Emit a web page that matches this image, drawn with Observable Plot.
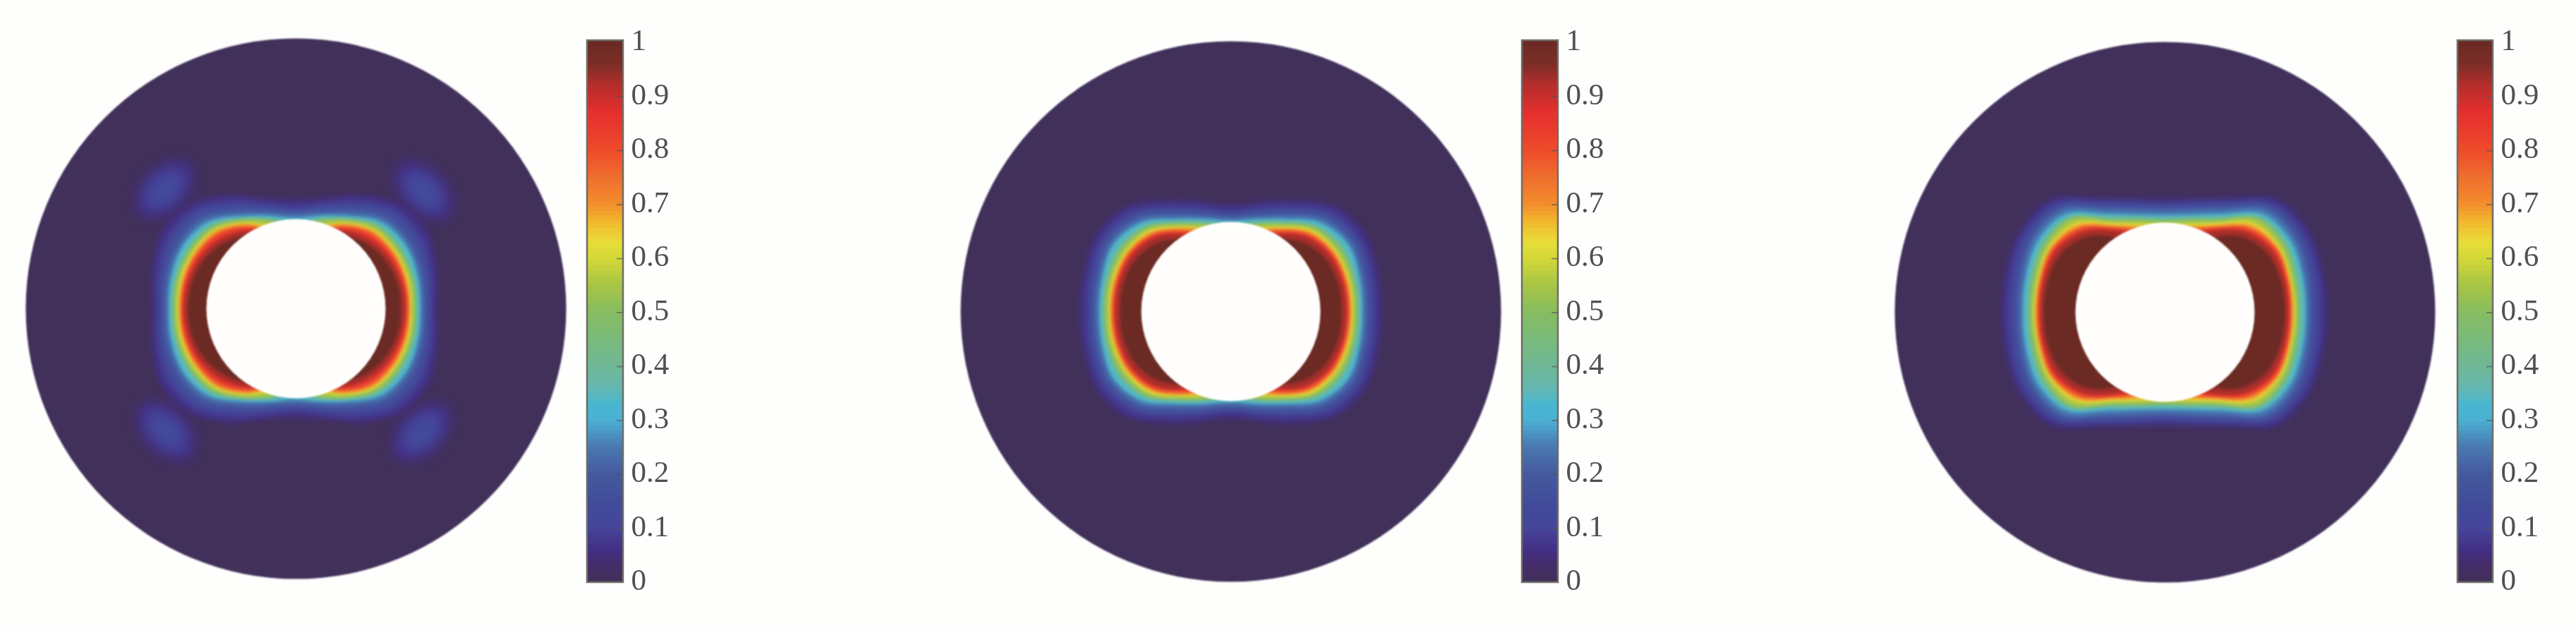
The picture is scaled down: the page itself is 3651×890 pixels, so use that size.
<!DOCTYPE html>
<html>
<head>
<meta charset="utf-8">
<script src="https://cdn.jsdelivr.net/npm/d3@7"></script>
<script src="https://cdn.jsdelivr.net/npm/@observablehq/plot@0.6"></script>
<style>html,body{margin:0;padding:0;background:#fefefd}</style>
</head>
<body>
<div id="chart"></div>
<script>
// Colour ramp
const rampStops  = [0,0.03,0.06,0.1,0.15,0.2,0.25,0.3,0.33,0.36,0.4,0.5,0.55,0.6,0.63,0.67,0.7,0.75,0.8,0.87,0.92,0.96,1];
const rampColors = ["#41305a","#452d68","#432f85","#45459a","#414c9a","#44599e","#4a78b0","#4bb0d3","#48b8d0","#65b7b0","#6fb896","#86bc60","#a8c545","#d3d838","#e8dd38","#f2b52e","#f28e2b","#ef6e2e","#ee4b2b","#e52f2e","#b52e2c","#7c2d26","#6b2a24"];

// Contour levels, and the value whose colour fills each band
const levels     = [0.05,0.1,0.15,0.2,0.25,0.3,0.4,0.5,0.6,0.65,0.7,0.8,0.9,0.95];
const bandValues = [0.06,0.11,0.16,0.21,0.27,0.34,0.45,0.55,0.62,0.67,0.75,0.85,0.93,1];
// Contour radius (reference pixels) at each polar angle in the first quadrant
const angles = [0,15,30,45,60,75,90];
const contours1 = [
  [201,209,218,210,186,162,154],
  [195,201,207,200,176,155,145],
  [189,193,198,191,167,148,140],
  [184,187,189,183,159,142,135],
  [180,183,184,177,154,138,131],
  [178,180,181,173,151,136,128],
  [174,175,174,168,148,132,120],
  [170,171,169,163,145,128,115],
  [166,167,165,159,141,121,110],
  [164,165,163,157,139,118,107],
  [163,163,161,155,137,115,105],
  [160,160,157,150,133,110,100],
  [157,156,152,143,128,105, 95],
  [151,150,145,135,120,100, 90]
];
const contours2 = [
  [214,216,220,210,182,161,151],
  [205,208,211,201,173,153,143],
  [198,200,205,193,166,147,138],
  [193,195,199,187,159,141,134],
  [189,191,194,182,154,137,130],
  [186,188,191,178,151,135,128],
  [182,183,183,172,147,131,122],
  [177,178,177,167,143,127,117],
  [173,174,172,163,139,122,110],
  [171,172,170,160,137,119,107],
  [170,170,168,158,135,116,105],
  [167,167,165,154,131,110,100],
  [164,164,161,150,126,103, 95],
  [157,157,153,140,117, 95, 85]
];
const contours3 = [
  [231,233,235,227,187,167,161],
  [222,225,228,219,182,162,155],
  [213,216,221,213,176,157,150],
  [207,210,215,208,170,152,145],
  [203,206,210,202,165,147,141],
  [200,202,205,196,160,142,137],
  [194,196,199,191,155,139,133],
  [189,190,193,186,150,134,128],
  [185,186,188,179,146,130,125],
  [183,184,186,176,143,127,121],
  [182,183,184,172,141,124,118],
  [179,180,181,167,138,118,110],
  [176,177,176,162,133,110,100],
  [171,171,168,152,121,100, 90]
];
// Four faint blobs of the first panel: centres relative to disc centre (x, up)
const blobCentres = [[181,167],[-186,169],[-184,-173],[178,-175]];
const blobLevels  = [0.05,0.08,0.12];
const blobBands   = [0.06,0.1,0.14];
const blobScales  = [1.15,0.8,0.45];
// Outline of top-right blob about its centre (x, up)
const blobOutline = [[32,-32],[36,-9],[20,20],[-9,36],[-32,32],[-36,9],[-20,-20],[9,-36]];

// Panel geometry in reference pixels
const panelCx   = [419,1744,3068];
const panelCy   = [437,441,442];
const contourDx = [-2,0,-1];
const discR  = 383;
const holeR  = 127;
const barX1  = [832,2157,3483];
const barX2  = [883,2208,3533];
const barTop = 57, barBottom = 825, barOne = 60;
const tickValues = [0,0.1,0.2,0.3,0.4,0.5,0.6,0.7,0.8,0.9,1];
const tickLabels = ["0","0.1","0.2","0.3","0.4","0.5","0.6","0.7","0.8","0.9","1"];
const fieldTables = [contours1,contours2,contours3];

const yOf = v => barBottom - (barBottom - barOne) * v;
const ring = row => [...row, ...row.slice(0,-1).reverse(), ...row.slice(1), ...row.slice(1,-1).reverse()];

const discs = panelCx.map((cx,i)=>({x:cx,y:panelCy[i],r:discR,value:0}));
const holes = panelCx.map((cx,i)=>({x:cx,y:panelCy[i],r:holeR}));

const contourPts = [];
fieldTables.forEach((table,p)=>{
  table.forEach((row,l)=>{
    ring(row).forEach((r,k)=>{
      const a = k*15*Math.PI/180;
      contourPts.push({key:`c${p}-${l}`,level:levels[l],value:bandValues[l],
        x:panelCx[p]+contourDx[p]+r*Math.cos(a), y:panelCy[p]-r*Math.sin(a)});
    });
  });
});
const lowBands  = contourPts.filter(d=>d.level<0.3);
const highBands = contourPts.filter(d=>d.level>=0.3);
const blobPts = [];
blobCentres.forEach(([bx,by],b)=>{
  const sx = Math.sign(bx), sy = Math.sign(by);
  blobLevels.forEach((lv,l)=>{
    blobOutline.forEach(([dx,dy])=>{
      blobPts.push({key:`b${b}-${l}`,value:blobBands[l],
        x:panelCx[0]+bx+sx*dx*blobScales[l], y:panelCy[0]-by-sy*dy*blobScales[l]});
    });
  });
});

const barCells=[], ticks=[], labels=[], frames=[];
const steps = d3.range(0,128);
barX1.forEach((x1,i)=>{
  const x2 = barX2[i];
  steps.forEach(s=>{
    barCells.push({x1,x2,y1:yOf(s/128),y2:Math.max(barTop,yOf((s+1)/128)-1),value:(s+0.5)/128});
  });
  barCells.push({x1,x2,y1:barOne,y2:barTop,value:1});
  frames.push({x1,x2,y1:barTop,y2:barBottom});
  tickValues.forEach((v,k)=>{
    if (k>0 && k<10) ticks.push({x1:x2-9,x2,y:yOf(v)});
    labels.push({x:x2+11,y:yOf(v)-3,t:tickLabels[k]});
  });
});

const chart = Plot.plot({
  width:3651,height:890,margin:0,
  style:{background:"#fefefd"},
  x:{axis:null,domain:[0,3651],range:[0,3651]},
  y:{axis:null,domain:[0,890],range:[0,890]},
  r:{type:"identity"},
  color:{type:"linear",domain:rampStops,range:rampColors,clamp:true},
  marks:[
    Plot.dot(discs,{x:"x",y:"y",r:"r",fill:"value",imageFilter:"blur(0.8px)"}),
    Plot.line(blobPts,{x:"x",y:"y",z:"key",fill:"value",stroke:"none",curve:"catmull-rom-closed",imageFilter:"blur(8px)"}),
    Plot.line(lowBands,{x:"x",y:"y",z:"key",fill:"value",stroke:"none",curve:"catmull-rom-closed",imageFilter:"blur(4px)"}),
    Plot.line(highBands,{x:"x",y:"y",z:"key",fill:"value",stroke:"none",curve:"catmull-rom-closed",imageFilter:"blur(2px)"}),
    Plot.dot(holes,{x:"x",y:"y",r:"r",fill:"#fffefc",imageFilter:"blur(0.8px)"}),
    Plot.rect(barCells,{x1:"x1",x2:"x2",y1:"y1",y2:"y2",fill:"value",imageFilter:"blur(0.6px)"}),
    Plot.rect(frames,{x1:"x1",x2:"x2",y1:"y1",y2:"y2",fill:"none",stroke:"#6d6d66",strokeWidth:2.5,imageFilter:"blur(0.6px)"}),
    Plot.ruleY(ticks,{y:"y",x1:"x1",x2:"x2",stroke:"#555",strokeOpacity:0.6,strokeWidth:2}),
    Plot.text(labels,{x:"x",y:"y",text:"t",textAnchor:"start",fontFamily:"'Liberation Serif',serif",fontSize:43,fill:"#505050",imageFilter:"blur(0.6px)"})
  ]
});
document.getElementById("chart").appendChild(chart);
</script>
</body>
</html>
